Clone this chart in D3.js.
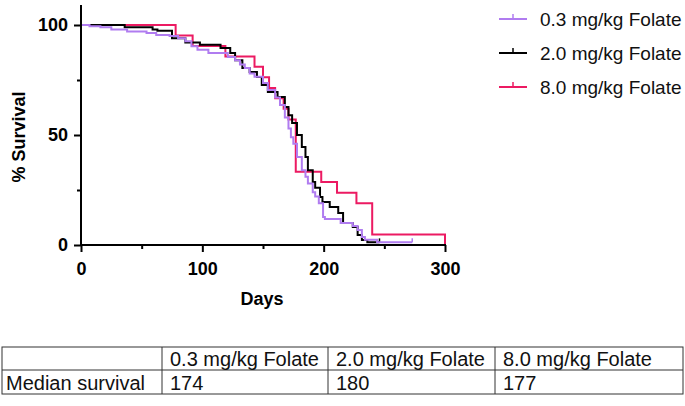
<!DOCTYPE html>
<html><head><meta charset="utf-8">
<script src="https://cdn.jsdelivr.net/npm/d3@7"></script>
<style>
html,body{margin:0;padding:0;background:#fff;}
svg{display:block;font-family:"Liberation Sans",Arial,sans-serif;}
</style></head>
<body><svg id="chart" width="685" height="406"></svg>
<script>
// ---- data ----
const seriesNames = ["0.3 mg/kg Folate", "2.0 mg/kg Folate", "8.0 mg/kg Folate"];
const seriesColors = ["#b07cf0", "#000000", "#ec1a62"];
// [day, % survival] step points
const folate03 = [[0,100],[7,99.4],[16,99],[25,98],[38,97],[54,96.4],[62,95.5],[73,95],[80,94],[86,92.6],[91,90.3],[96,88.8],[105,87.3],[121,85.5],[127,84],[131,82],[135,80.5],[139,78],[143,76.5],[150,73.6],[154,70.5],[160,67],[164,63.6],[168,58],[171,53],[173,49],[175,46],[178,40],[182,34],[185,31],[187,28],[191,24],[193,22],[196,19],[199.5,12.7],[201,11.8],[214,10],[224,8.6],[228,6.8],[231.5,3.6],[234,2.4],[244,1.2],[273,1.2]];
const folate20 = [[0,100],[36,99],[59,98],[63,97.4],[75,94],[86,92],[98,91],[115,89.5],[123,87.3],[127,84],[133,80.5],[139,78.6],[145,76.4],[149,72.7],[154,69.5],[162,67.3],[168,62.7],[171,59],[174,55.5],[178,50],[182,44.5],[185,40],[187,34],[191,28.6],[193,26],[197,21.8],[199,19.5],[205,17.3],[212,14.5],[216,10],[224,8.2],[228,4.5],[231.5,2.3],[236,1.2],[246,1.2]];
const folate80 = [[0,100],[78,95.2],[92,90.5],[119,85.7],[143,81.0],[150,76.2],[155,71.4],[160,66.7],[167,61.9],[171,57.1],[177,33.3],[198,28.6],[211,23.8],[227,19.0],[240,4.8],[300,4.8],[300,0]];
const xTicks = [0, 100, 200, 300];
const xMinorTicks = [50, 150, 250];
const yTicks = [0, 50, 100];
const yMinorTicks = [25, 75];
const tableRowLabel = "Median survival";
const medianSurvival = [174, 180, 177];

const allSeries = [folate03, folate20, folate80];

const svg = d3.select("#chart");
const x = d3.scaleLinear().domain([0, 300]).range([81, 445]);
const y = d3.scaleLinear().domain([0, 100]).range([245, 25]);

// curves (draw 8.0 first, then 2.0, then 0.3 on top)
const line = d3.line().x(d => x(d[0])).y(d => y(d[1])).curve(d3.curveStepAfter);
[2, 1, 0].forEach(i => {
  svg.append("path").datum(allSeries[i])
    .attr("d", line).attr("fill", "none")
    .attr("stroke", seriesColors[i]).attr("stroke-width", 2);
  const last = allSeries[i][allSeries[i].length - 1];
  if (i !== 2) {
    svg.append("line").attr("x1", x(last[0])).attr("x2", x(last[0]))
      .attr("y1", y(last[1])).attr("y2", y(last[1]) - 4)
      .attr("stroke", seriesColors[i]).attr("stroke-width", 1.5);
  }
});

// axes
const axisG = svg.append("g");
axisG.append("line").attr("x1", x(0)).attr("x2", x(0)).attr("y1", 5).attr("y2", y(0)).attr("stroke", "#000").attr("stroke-width", 2);
axisG.append("line").attr("x1", x(0) - 1).attr("x2", x(300) + 1).attr("y1", y(0)).attr("y2", y(0)).attr("stroke", "#000").attr("stroke-width", 2);

const xAxis = d3.axisBottom(x).tickValues(xTicks).tickSize(7).tickPadding(10);
const gx = svg.append("g").attr("transform", `translate(0,${y(0)})`).call(xAxis);
const gxm = svg.append("g").attr("transform", `translate(0,${y(0)})`).call(d3.axisBottom(x).tickValues(xMinorTicks).tickSize(4).tickFormat(""));
const yAxis = d3.axisLeft(y).tickValues(yTicks).tickSize(7).tickPadding(6);
const gy = svg.append("g").attr("transform", `translate(${x(0)},0)`).call(yAxis);
const gym = svg.append("g").attr("transform", `translate(${x(0)},0)`).call(d3.axisLeft(y).tickValues(yMinorTicks).tickSize(4).tickFormat(""));
[gx, gxm, gy, gym].forEach(g => {
  g.select(".domain").remove();
  g.selectAll(".tick line").attr("stroke", "#000").attr("stroke-width", 2);
  g.selectAll("text").attr("fill", "#000").attr("font-size", 18).attr("font-weight", "bold")
    .attr("font-family", "'Liberation Sans', Arial, sans-serif");
});

svg.append("text").attr("x", 262).attr("y", 305).attr("text-anchor", "middle")
  .attr("font-size", 18).attr("font-weight", "bold").text("Days");
svg.append("text").attr("transform", "translate(25,137) rotate(-90)").attr("text-anchor", "middle")
  .attr("font-size", 18).attr("font-weight", "bold").text("% Survival");

// legend
const legY = [19, 53, 87];
seriesNames.forEach((n, i) => {
  const g = svg.append("g").attr("transform", `translate(0,${legY[i]})`);
  g.append("line").attr("x1", 499).attr("x2", 527).attr("y1", 0).attr("y2", 0).attr("stroke", seriesColors[i]).attr("stroke-width", 2);
  g.append("line").attr("x1", 513).attr("x2", 513).attr("y1", 0).attr("y2", -5).attr("stroke", seriesColors[i]).attr("stroke-width", 1.5);
  g.append("text").attr("x", 540).attr("y", 7).attr("font-size", 19).attr("fill", "#111").text(n);
});

// table
const colX = [2, 162, 328, 495, 683];
const rowY = [347, 370, 394];
const tg = svg.append("g");
tg.append("rect").attr("x", colX[0]).attr("y", rowY[0]).attr("width", colX[4] - colX[0]).attr("height", rowY[2] - rowY[0])
  .attr("fill", "none").attr("stroke", "#333").attr("stroke-width", 1);
tg.append("line").attr("x1", colX[0]).attr("x2", colX[4]).attr("y1", rowY[1]).attr("y2", rowY[1]).attr("stroke", "#333");
colX.slice(1, 4).forEach(cx => tg.append("line").attr("x1", cx).attr("x2", cx).attr("y1", rowY[0]).attr("y2", rowY[2]).attr("stroke", "#333"));
seriesNames.forEach((n, i) => {
  tg.append("text").attr("x", colX[i + 1] + 8).attr("y", rowY[1] - 4).attr("font-size", 20).attr("fill", "#111").text(n);
  tg.append("text").attr("x", colX[i + 1] + 8).attr("y", rowY[2] - 4).attr("font-size", 20).attr("fill", "#111").text(medianSurvival[i]);
});
tg.append("text").attr("x", colX[0] + 4).attr("y", rowY[2] - 4).attr("font-size", 20).attr("fill", "#111").text(tableRowLabel);
</script></body></html>
